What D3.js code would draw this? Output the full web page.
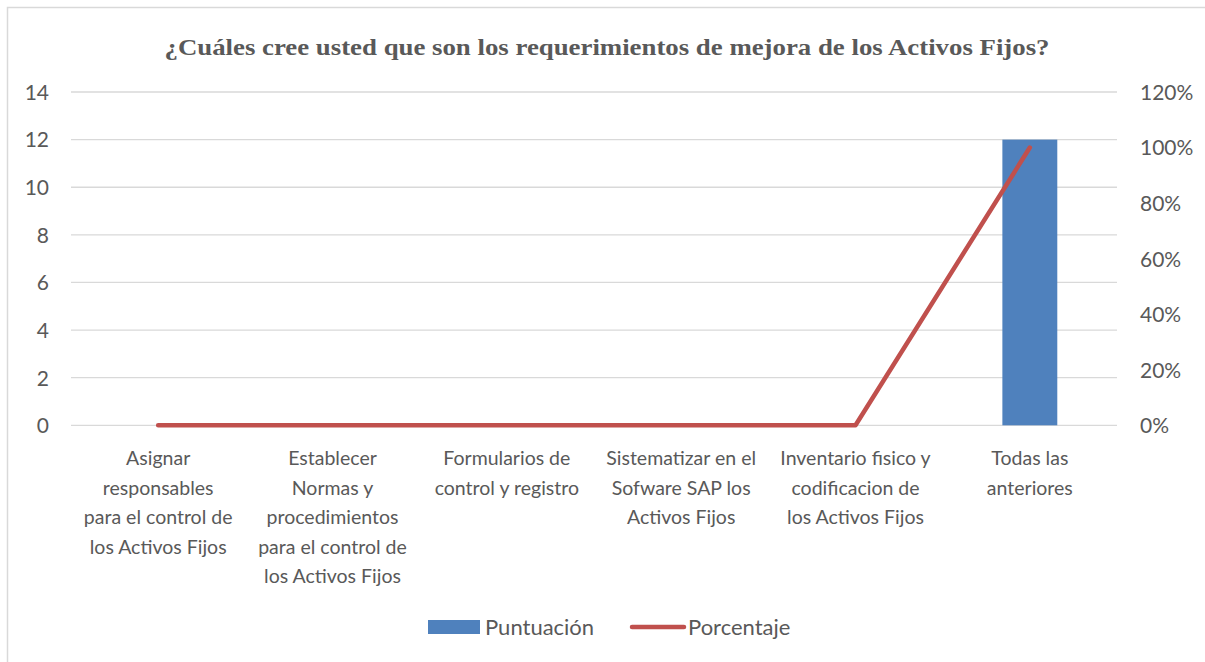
<!doctype html>
<html>
<head>
<meta charset="utf-8">
<title>Requerimientos de mejora</title>
<style>
  body { margin: 0; background: #fff; }
  text { font-family: Lato, "Open Sans", sans-serif; fill: #595959; }
</style>
</head>
<body>
<div id="chart"></div>
<script src="https://d3js.org/d3.v7.min.js"></script>
<script>
// data
var categories = [
  "Asignar\nresponsables\npara el control de\nlos Activos Fijos",
  "Establecer\nNormas y\nprocedimientos\npara el control de\nlos Activos Fijos",
  "Formularios de\ncontrol y registro",
  "Sistematizar en el\nSofware SAP los\nActivos Fijos",
  "Inventario fisico y\ncodificacion de\nlos Activos Fijos",
  "Todas las\nanteriores"
];
var puntuacion = [0, 0, 0, 0, 0, 12];
var porcentaje = [0, 0, 0, 0, 0, 1];
var leftTicks = [0, 2, 4, 6, 8, 10, 12, 14];
var rightTicks = [0, 0.2, 0.4, 0.6, 0.8, 1.0, 1.2];

var W = 1205, H = 662;
var plotL = 71, plotR = 1117, plotT = 92, plotB = 425.3;

var svg = d3.select("#chart").append("svg").attr("width", W).attr("height", H);

// outer frame
svg.append("rect").attr("x", 7.5).attr("y", 7.5).attr("width", W).attr("height", H)
  .attr("fill", "none").attr("stroke", "#d9d9d9").attr("stroke-width", 1.5);

svg.append("text").attr("x", 607).attr("y", 55).attr("text-anchor", "middle")
  .style("font-family", "'Liberation Serif', 'Times New Roman', serif")
  .style("font-weight", "bold").style("font-size", "24px")
  .attr("textLength", 885).attr("lengthAdjust", "spacingAndGlyphs")
  .text("¿Cuáles cree usted que son los requerimientos de mejora de los Activos Fijos?");

var x = d3.scaleBand().domain(d3.range(categories.length)).range([plotL, plotR]).paddingInner(0.685).paddingOuter(0.3425);
var xc = d3.scaleBand().domain(d3.range(categories.length)).range([plotL, plotR]);
var y = d3.scaleLinear().domain([0, 14]).range([plotB, plotT]);
var y2 = d3.scaleLinear().domain([0, 1.2]).range([plotB, plotT]);

// gridlines
svg.append("g").selectAll("line").data(leftTicks).enter().append("line")
  .attr("x1", plotL).attr("x2", plotR)
  .attr("y1", function(d){ return y(d); }).attr("y2", function(d){ return y(d); })
  .attr("stroke", "#d9d9d9").attr("stroke-width", 1.3);

// left axis
var ya = svg.append("g").attr("transform", "translate(49,0)")
  .call(d3.axisLeft(y).tickValues(leftTicks).tickSize(0).tickPadding(0));
ya.select(".domain").remove();
ya.selectAll("text").style("font-size", "21px").attr("fill", "#595959").attr("dy", "0.35em");

// right axis
var yb = svg.append("g").attr("transform", "translate(1140,0)")
  .call(d3.axisRight(y2).tickValues(rightTicks).tickSize(0).tickPadding(0).tickFormat(d3.format(".0%")));
yb.select(".domain").remove();
yb.selectAll("text").style("font-size", "21px").attr("fill", "#595959").attr("dy", "0.35em");

// bars
svg.append("g").selectAll("rect").data(puntuacion).enter().append("rect")
  .attr("x", function(d, i){ return x(i); })
  .attr("width", x.bandwidth())
  .attr("y", function(d){ return y(d); })
  .attr("height", function(d){ return y(0) - y(d); })
  .attr("fill", "#4f81bd");

// line
var line = d3.line()
  .x(function(d, i){ return xc(i) + xc.bandwidth() / 2; })
  .y(function(d){ return y2(d); });
svg.append("path").datum(porcentaje).attr("d", line)
  .attr("fill", "none").attr("stroke", "#c0504d").attr("stroke-width", 4.5)
  .attr("stroke-linecap", "round").attr("stroke-linejoin", "round");

// category labels
var labels = svg.append("g").selectAll("text").data(categories).enter().append("text")
  .attr("text-anchor", "middle").style("font-size", "19.5px")
  .attr("transform", function(d, i){ return "translate(" + (xc(i) + xc.bandwidth() / 2) + ",465)"; });
labels.selectAll("tspan").data(function(d){ return d.split("\n"); }).enter().append("tspan")
  .attr("x", 0).attr("y", function(d, i){ return i * 29.5; })
  .text(function(d){ return d; });

// legend
var lg = svg.append("g");
lg.append("rect").attr("x", 428).attr("y", 620).attr("width", 52).attr("height", 14).attr("fill", "#4f81bd");
lg.append("text").attr("x", 485).attr("y", 635).style("font-size", "22px").text("Puntuación");
lg.append("line").attr("x1", 632).attr("x2", 684).attr("y1", 627).attr("y2", 627)
  .attr("stroke", "#c0504d").attr("stroke-width", 4.5).attr("stroke-linecap", "round");
lg.append("text").attr("x", 688).attr("y", 635).style("font-size", "22px").text("Porcentaje");
</script>
</body>
</html>
